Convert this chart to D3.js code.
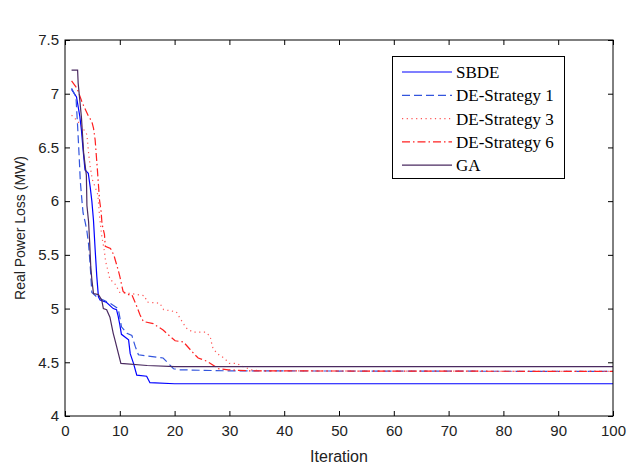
<!DOCTYPE html>
<html><head><meta charset="utf-8">
<script src="https://cdn.jsdelivr.net/npm/d3@7"></script>
<style>body{margin:0;background:#fff}svg{display:block}</style>
</head><body><svg id="c" width="638" height="467"></svg>
<script>
const seriesNames = ["SBDE","DE-Strategy 1","DE-Strategy 3","DE-Strategy 6","GA"];
const xTicks = [0,10,20,30,40,50,60,70,80,90,100];
const yTicks = [4,4.5,5,5.5,6,6.5,7,7.5];
const sbde = [[1.2,7.04],[2.1,6.97],[2.4,6.88],[2.7,6.79],[3.0,6.66],[3.3,6.48],[3.65,6.29],[4.25,6.26],[4.6,6.13],[4.9,6.0],[5.2,5.82],[5.5,5.55],[5.8,5.30],[6.1,5.11],[6.4,5.08],[7.5,5.06],[8.8,5.0],[9.4,4.99],[9.7,4.93],[10,4.85],[10.3,4.76],[11.6,4.71],[11.9,4.58],[12.5,4.49],[13.1,4.38],[14.9,4.37],[15.5,4.31],[20,4.30],[100,4.30]];
const de1 = [[1.2,7.05],[2.0,6.97],[2.3,6.7],[2.6,6.4],[2.8,6.18],[3.1,6.0],[3.3,5.89],[3.7,5.8],[4.0,5.72],[4.3,5.6],[4.6,5.4],[4.9,5.15],[6,5.1],[7,5.08],[8.2,5.05],[9.7,5.0],[10,4.92],[10.3,4.83],[11.3,4.77],[12.2,4.75],[12.8,4.65],[13.4,4.57],[17.9,4.54],[19.8,4.44],[21,4.43],[30,4.42],[100,4.415]];
const de3 = [[1.2,6.80],[2,6.76],[3,6.70],[4,6.62],[4.3,6.45],[4.6,6.32],[5,6.2],[5.5,6.13],[6,6.06],[6.3,5.86],[6.7,5.68],[7.2,5.53],[7.4,5.44],[7.8,5.36],[8.2,5.27],[9,5.24],[10,5.15],[12,5.14],[14.5,5.12],[15,5.06],[17.3,5.05],[18,4.99],[20.3,4.97],[21,4.91],[21.6,4.86],[22.3,4.81],[23.4,4.78],[25.7,4.78],[26.5,4.74],[26.7,4.69],[27,4.63],[27.8,4.58],[29,4.54],[30,4.49],[31.3,4.49],[32.5,4.46],[34,4.43],[36,4.42],[100,4.415]];
const de6 = [[1.2,7.12],[2.2,7.05],[3.2,6.91],[4.2,6.80],[4.9,6.74],[5.2,6.68],[5.5,6.57],[5.9,6.3],[6.3,6.01],[6.6,5.9],[6.75,5.79],[7.2,5.69],[7.35,5.58],[8.3,5.56],[8.9,5.50],[9.7,5.36],[10,5.30],[10.6,5.16],[11.3,5.13],[12.2,5.13],[13.1,5.02],[13.7,4.94],[14.3,4.88],[16.1,4.86],[17.9,4.80],[20.1,4.70],[21.6,4.69],[23.7,4.57],[24.3,4.54],[25.9,4.51],[28,4.44],[29.8,4.43],[33.8,4.42],[100,4.415]];
const ga = [[1.2,7.22],[2.3,7.22],[2.4,7.1],[3.0,6.78],[3.4,6.45],[3.9,6.24],[4.0,5.96],[4.3,5.81],[4.5,5.62],[4.7,5.39],[4.9,5.27],[5.2,5.14],[6.1,5.13],[6.7,5.08],[7,5.0],[7.6,4.99],[8.2,4.92],[8.8,4.77],[9.1,4.71],[10.2,4.49],[15,4.47],[20,4.46],[100,4.46]];
const allData = [sbde,de1,de3,de6,ga];
const colors = ["#0000ff","#3355dd","#ff5555","#ff2020","#4a2a60"];
const dashes = [null,"8,4","1.2,3.5","8,3,1.5,3",null];

const svg = d3.select("#c");
const L=65,R=613,T=40,B=416;
const x = d3.scaleLinear().domain([0,100]).range([L,R]);
const y = d3.scaleLinear().domain([4,7.5]).range([B,T]);
const tickFont = "'Liberation Sans Narrow','Liberation Sans',Arial,sans-serif";

const gx = svg.append("g").attr("transform",`translate(0,${B})`)
  .call(d3.axisBottom(x).tickValues(xTicks).tickSize(-5).tickPadding(6).tickFormat(d3.format("d")));
const gy = svg.append("g").attr("transform",`translate(${L},0)`)
  .call(d3.axisLeft(y).tickValues(yTicks).tickSize(-5).tickPadding(6).tickFormat(d=>String(d)));
const gt = svg.append("g").attr("transform",`translate(0,${T})`)
  .call(d3.axisTop(x).tickValues(xTicks).tickSize(-5).tickFormat(""));
const gr = svg.append("g").attr("transform",`translate(${R},0)`)
  .call(d3.axisRight(y).tickValues(yTicks).tickSize(-5).tickFormat(""));
[gx,gy,gt,gr].forEach(g=>{
  g.select(".domain").remove();
  g.selectAll("line").attr("stroke","#000");
  g.selectAll("text").attr("font-family",tickFont).attr("font-size",15).attr("fill","#222");
});
gx.selectAll("text").attr("dy","0.9em");

const line = d3.line().x(d=>x(d[0])).y(d=>y(d[1]));
svg.append("clipPath").attr("id","cp").append("rect").attr("x",L).attr("y",T).attr("width",R-L).attr("height",B-T);
svg.append("g").attr("clip-path","url(#cp)").selectAll("path").data(allData).join("path")
  .attr("d",line).attr("fill","none")
  .attr("stroke",(d,i)=>colors[i]).attr("stroke-width",1.2)
  .attr("stroke-dasharray",(d,i)=>dashes[i]);

svg.append("rect").attr("x",L).attr("y",T).attr("width",R-L).attr("height",B-T)
  .attr("fill","none").attr("stroke","#000").attr("stroke-width",1);

// legend
const lg = svg.append("g");
lg.append("rect").attr("x",392.5).attr("y",56.5).attr("width",172).attr("height",122)
  .attr("fill","#fff").attr("stroke","#000");
seriesNames.forEach((n,i)=>{
  const yy = 72 + i*23.3;
  lg.append("line").attr("x1",402).attr("x2",452).attr("y1",yy).attr("y2",yy)
    .attr("stroke",colors[i]).attr("stroke-width",1.2).attr("stroke-dasharray",dashes[i]);
  lg.append("text").attr("x",456).attr("y",yy).attr("dy","0.35em")
    .attr("font-family","'Liberation Serif','Times New Roman',serif").attr("font-size",17)
    .attr("fill","#000").text(n);
});

svg.append("text").attr("x",(L+R)/2).attr("y",456).attr("dy","0.35em").attr("text-anchor","middle")
  .attr("font-family",tickFont).attr("font-size",16).attr("fill","#222").text("Iteration");
svg.append("text").attr("transform",`translate(20,${(T+B)/2}) rotate(-90)`).attr("dy","0.35em")
  .attr("text-anchor","middle").attr("font-family","'Liberation Sans',Arial,sans-serif")
  .attr("font-size",14).attr("fill","#222").text("Real Power Loss (MW)");
</script></body></html>
